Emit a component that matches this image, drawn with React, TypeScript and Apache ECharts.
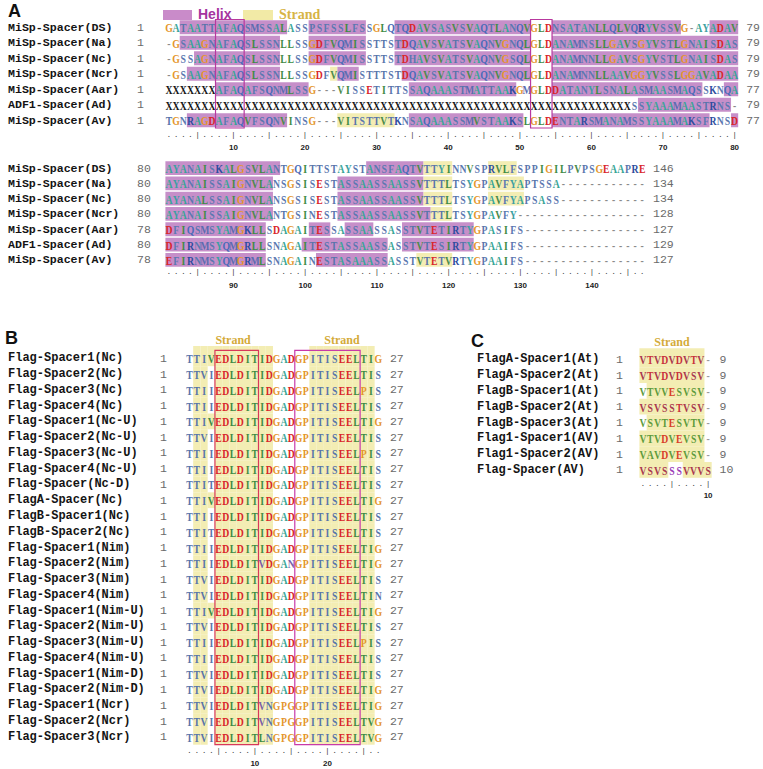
import React, { useEffect, useRef } from "react";
import * as echarts from "echarts";

// ---------------- Panel A data ----------------
const aNames = ["MiSp-Spacer(DS)", "MiSp-Spacer(Na)", "MiSp-Spacer(Nc)", "MiSp-Spacer(Ncr)", "MiSp-Spacer(Aar)", "ADF1-Spacer(Ad)", "MiSp-Spacer(Av)"];
const aStart1 = [1, 1, 1, 1, 1, 1, 1];
const aEnd1 = [79, 79, 79, 79, 77, 79, 77];
const aSeq1 = [
  "GATAATTAFAQSMSSALASSPSFSSLFSSGLQTQDAVSASVSVAQTLANQVGLDNSATANLLQLVQRYVSSVG-AYADAV",
  "-GSAAGNAFAQSLSSNLLSSGDFVQMISSTTSTDQAVSVATSVAQNVGNQLGLDANAMNSLLGAVSGYVSTLGNAISDAS",
  "-GSSAGNAFAQSLSSNLLSSGDFVQMISSTTSTDHAVSVATSVAQNVGSQLGLDANAMNNLLGAVSGYVSTLGNAISDAS",
  "-GSAAGNAFAQSLSSNLLSSGDFVQMISTTTSTDQAVSVATSVAQNVGNQLGLDANAMNNLLAAVGGYVSSLGGAVADAA",
  "XXXXXXXAFAQAFSQNMLSSG---VISSETITTSSAQAAASTMATTAAKGMGLDDATANYLSNALASMAASMAQSSKNQA",
  "XXXXXXXXXX" + "XXXXXXXXXX" + "XXXXXXXXXX" + "XXXXXXXXXX" + "XXXXXXXXXX" + "XXXXXXXXXX" + "XXXXX" + "SSYAAAMAASTRNS-",
  "TGNRAGDAFAQVFSQNVINSG---VITSTTVTKNSAQAAASSMVSTAAKSLGLDENTARSMANAMSSYAAAMAKSFRNSD",
];
const aHelix1 = [
  [[3, 17], [21, 28], [33, 51], [55, 72], [77, 80]],
  [[3, 16], [21, 28], [33, 51], [55, 80]],
  [[5, 16], [21, 28], [33, 51], [55, 80]],
  [[4, 16], [25, 27], [34, 51], [55, 80]],
  [[8, 20], [35, 49], [55, 75], [79, 80]],
  [[67, 79]],
  [[4, 17], [35, 50], [55, 76], [80, 80]],
];
const aStrand1 = [[], [], [], [[24, 24]], [], [], [[25, 32]]];
const aStart2 = [80, 80, 80, 80, 78, 80, 78];
const aEnd2 = [146, 134, 134, 128, 127, 129, 127];
const aSeq2 = [
  "AYANAISKALGSVLANTGQITTSTAYSTANSFAQTVTTYINNVSPRVLFSPPIGILPVPSGEAAPRE",
  "AYANAISSAIGNVLANSGSISESTASSAASSAASSVTTTLTSYGPAVFYAPTSSA------------",
  "AYANALSSAIGNVLANSGSISESTASSAASSAASSVTTTLTSYGPAVFYAPSASS------------",
  "AYANAISSAIGNVLANTGSINESTASSAASSAASSVTTTLTSYGPAVFY------------------",
  "DFIQSMSYAMGKLLSDAGAITESSASSAASSASSTVTETIRTYGPASIFS-----------------",
  "DFIRNMSYQMGRLLSNAGAITESTASSAASSASSTVTESIRTYGPAAIFS-----------------",
  "EFIRNMSYQMGRMLSNAGAINESTASAAASSASSTVTETVRTYGPAAIFS-----------------",
];
const aHelix2 = [
  [[1, 16], [29, 36]],
  [[1, 15], [25, 36]],
  [[1, 15], [25, 36]],
  [[1, 15], [25, 37]],
  [[1, 14], [21, 23], [26, 29], [34, 43]],
  [[1, 14], [20, 31], [34, 43]],
  [[1, 14], [22, 31]],
];
const aStrand2 = [[[37, 40], [46, 49]], [[37, 40], [46, 50]], [[37, 40], [46, 50]], [[38, 40]], [], [], [[36, 40]]];
const aBoxes1 = [[8, 11], [52, 54]];
const aTicks1 = [10, 20, 30, 40, 50, 60, 70, 80];
const aTicks2 = [90, 100, 110, 120, 130, 140];

// ---------------- Panel B data ----------------
const bNames = [
  "Flag-Spacer1(Nc)", "Flag-Spacer2(Nc)", "Flag-Spacer3(Nc)", "Flag-Spacer4(Nc)",
  "Flag-Spacer1(Nc-U)", "Flag-Spacer2(Nc-U)", "Flag-Spacer3(Nc-U)", "Flag-Spacer4(Nc-U)",
  "Flag-Spacer(Nc-D)", "FlagA-Spacer(Nc)", "FlagB-Spacer1(Nc)", "FlagB-Spacer2(Nc)",
  "Flag-Spacer1(Nim)", "Flag-Spacer2(Nim)", "Flag-Spacer3(Nim)", "Flag-Spacer4(Nim)",
  "Flag-Spacer1(Nim-U)", "Flag-Spacer2(Nim-U)", "Flag-Spacer3(Nim-U)", "Flag-Spacer4(Nim-U)",
  "Flag-Spacer1(Nim-D)", "Flag-Spacer2(Nim-D)", "Flag-Spacer1(Ncr)", "Flag-Spacer2(Ncr)", "Flag-Spacer3(Ncr)",
];
const bSeqs = [
  "TTIVEDLDITIDGADGPITISEELTIG", "TTVIEDLDITIDGADGPITISEELTIS", "TTIIEDLDITIDGADGPITISEELPIS", "TTIIEDLDITIDGADGPITISEELTIS",
  "TTIVEDLDITIDGADGPITISEELTIG", "TTVIEDLDITIDGADGPITISEELTIS", "TTIIEDLDITIDGADGPITISEELPIS", "TTIIEDLDITIDGADGPITISEELTIS",
  "TTITEDLDITIDGADGPITISEELTIS", "TTIVEDLDITIDGADGPITISEELTIG", "TTIIEDLDITIDGADGPITISEELTIS", "TTITEDLDITIDGADGPITISEELTIS",
  "TTIIEDLDITIDGADGPITISEELTIG", "TTIIEDLDITVDGANGPITISEELTIG", "TTVIEDLDITIDGADGPITISEELTIS", "TTVIEDLDITIDGADGPITISEELTIN",
  "TTIVEDLDITIDGADGPITISEELTIG", "TTVIEDLDITIDGADGPITISEELTIS", "TTIIEDLDITIDGADGPITISEELPIS", "TTIIEDLDITIDGADGPITISEELTIS",
  "TTVIEDLDITIDGADGPITISEELTIS", "TTVIEDLDITIDGADGPITISEELTIG", "TTVIEDLDITVNGPGGPITISEELTIG", "TTVIEDLDITVNGPGGPITISEELTVG",
  "TTVIEDLDITLNGPGGPITISEELTVG",
];
const bStart = bSeqs.map(() => 1);
const bEnd = bSeqs.map(() => 27);
const bStrandBands = [[2, 12], [18, 26]];
const bBoxes = [[5, 10], [16, 24]];
const bTicks = [10, 20];

// ---------------- Panel C data ----------------
const cNames = ["FlagA-Spacer1(At)", "FlagA-Spacer2(At)", "FlagB-Spacer1(At)", "FlagB-Spacer2(At)", "FlagB-Spacer3(At)", "Flag1-Spacer1(AV)", "Flag1-Spacer2(AV)", "Flag-Spacer(AV)"];
const cSeqs = ["VTVDVDVTV-", "VTVDVDVSV-", "VTVVESVSV-", "VSVSSTVSV-", "VSVTESVTV-", "VTVDVEVSV-", "VAVDVEVSV-", "VSVSSSVVVS"];
const cStart = [1, 1, 1, 1, 1, 1, 1, 1];
const cEnd = [9, 9, 9, 9, 9, 9, 9, 10];
const cStrand = [[[1, 9]], [[1, 9]], [[2, 9]], [[1, 9]], [[2, 9]], [[1, 9]], [[1, 9]], [[1, 4], [7, 10]]];
const cTone = ["r", "r", "g", "r", "g", "g", "g", "r"];
const cStrandBand = [1, 9];
const cTicks = [10];

// ---------------- styles ----------------
const HELIX = "#c68fc9";
const STRAND = "#f3edb3";
const RED = "#d9262b";
const ORANGE = "#e4962c";
const TEAL = "#38a596";
const SLATE = "#5874aa";
const GREEN = "#3f8b45";
const baseColors: Record<string, string> = {
  A: TEAL, G: ORANGE, P: "#5b76ad", D: RED, E: RED, T: SLATE, S: "#5b78b0", N: "#5b78b0",
  Q: "#4a6cb8", I: GREEN, L: GREEN, V: "#4a8a4a", M: "#5b6cb0", F: "#5b78b0", Y: "#3d9fa2",
  K: "#2d4d9e", R: "#2d4d9e", H: "#5b78b0", X: "#141414", "-": "#8a8a8a",
};
const colorA = (ch: string) => baseColors[ch] || SLATE;
const colorB = (ch: string, col: number) => {
  if (ch === "D" || ch === "E") return RED;
  if (ch === "G" || ch === "P") return ORANGE;
  if (ch === "A") return TEAL;
  if (ch === "L") return GREEN;
  if (ch === "N") return col === 15 ? "#7b5ea8" : SLATE;
  if (ch === "S") return SLATE;
  if (ch === "V") return col === 3 ? SLATE : col === 11 ? "#7b5ea8" : GREEN;
  if (ch === "T" || ch === "I") return (col >= 5 && col <= 12) || col >= 24 ? GREEN : SLATE;
  return SLATE;
};
const colorC = (ch: string, row: number, col: number) => {
  if (ch === "-") return "#9a9a9a";
  if (row === 7 && (col === 5 || col === 6)) return "#9a3cb8";
  if (cTone[row] === "r") return ch === "D" || ch === "T" ? "#c8323c" : "#a8384f";
  if (ch === "D" || ch === "E") return "#d8402a";
  return "#5d9a3c";
};

const LETTER_FONT = 'bold 12.5px "Liberation Serif"';

const cats = (from: number, n: number) => Array.from({ length: n }, (_, i) => String(from + i));
const hidden = { axisLine: { show: false }, axisTick: { show: false }, splitLine: { show: false } };

function rulerAxes(grid: number, from: number, n: number, ticks: number[], rMargin: number, lMargin: number) {
  const data = cats(from, n);
  return [
    {
      type: "category", gridIndex: grid, position: "bottom", data, ...hidden,
      axisLabel: {
        interval: 0, margin: rMargin, verticalAlign: "middle", fontFamily: "Liberation Mono", fontSize: 8, color: "#444",
        formatter: (v: string) => (Number(v) % 5 === 0 ? "|" : "."),
      },
    },
    {
      type: "category", gridIndex: grid, position: "bottom", data, ...hidden,
      axisLabel: {
        interval: 0, margin: lMargin, verticalAlign: "middle", fontFamily: "Liberation Sans", fontWeight: "bold", fontSize: 8, color: "#222",
        formatter: (v: string) => (ticks.includes(Number(v)) ? v : ""),
      },
    },
  ];
}

function rowAxes(grid: number, names: string[], starts: number[], ends: number[], nm: number, sm: number, em: number, nameSize: number) {
  const numLabel = { interval: 0, align: "left", fontFamily: "Liberation Mono", fontSize: 11.5, color: "#6a6a6a" };
  return [
    { type: "category", gridIndex: grid, position: "left", inverse: true, data: names, ...hidden,
      axisLabel: { interval: 0, align: "left", margin: nm, fontFamily: "Liberation Mono", fontWeight: "bold", fontSize: nameSize, color: "#141414" } },
    { type: "category", gridIndex: grid, position: "left", offset: 0, inverse: true, data: starts.map(String), ...hidden,
      axisLabel: { ...numLabel, margin: sm } },
    { type: "category", gridIndex: grid, position: "right", inverse: true, data: ends.map(String), ...hidden,
      axisLabel: { ...numLabel, margin: em } },
  ];
}

function headerAxis(grid: number, n: number, bands: number[][], margin: number) {
  const centers = bands.map((b) => (b[0] + b[1]) / 2);
  return {
    type: "category", gridIndex: grid, position: "top", data: cats(1, n), ...hidden,
    axisLabel: {
      interval: 0, margin, verticalAlign: "middle", fontFamily: "Liberation Serif", fontWeight: "bold", fontSize: 12, color: "#d4ab3a",
      formatter: (v: string) => (centers.includes(Number(v)) ? "Strand" : ""),
    },
  };
}

type BgFn = (r: number, seq: string) => [number, number, string][];
type ColFn = (ch: string, r: number, col: number) => string;

function rowSeries(xi: number, yi: number, seqs: string[], bgFn: BgFn, colFn: ColFn, gap: number, headerExt: number) {
  return {
    type: "custom", xAxisIndex: xi, yAxisIndex: yi, z: 2, silent: true,
    data: seqs.map((_, r) => [0, r]),
    renderItem: (params: any, api: any) => {
      const r = params.dataIndex;
      const seq = seqs[r];
      const size = api.size([1, 1]);
      const cw = size[0];
      const rh = size[1];
      const children: any[] = [];
      bgFn(r, seq).forEach(([s, e, fill]) => {
        const p = api.coord([s - 1, r]);
        const ext = r === 0 ? headerExt * rh : 0;
        children.push({
          type: "rect",
          shape: { x: p[0] - cw / 2, y: p[1] - rh / 2 + gap / 2 - ext, width: cw * (e - s + 1), height: rh - gap + ext },
          style: { fill },
        });
      });
      for (let c = 0; c < seq.length; c++) {
        const ch = seq[c];
        const p = api.coord([c, r]);
        children.push({
          type: "text", x: p[0], y: p[1] + 0.5, scaleX: 0.78,
          style: { text: ch, fill: colFn(ch, r, c + 1), font: LETTER_FONT, align: "center", textAlign: "center", verticalAlign: "middle", textVerticalAlign: "middle" },
        });
      }
      return { type: "group", children };
    },
  };
}

function boxSeries(xi: number, yi: number, nRows: number, boxes: number[][], colors: string[]) {
  return {
    type: "custom", xAxisIndex: xi, yAxisIndex: yi, z: 3, silent: true,
    data: [[0, 0]],
    renderItem: (_params: any, api: any) => {
      const size = api.size([1, 1]);
      const cw = size[0];
      const rh = size[1];
      const children = boxes.map(([s, e], i) => {
        const p1 = api.coord([s - 1, 0]);
        const p2 = api.coord([e - 1, nRows - 1]);
        return {
          type: "rect",
          shape: { x: p1[0] - cw / 2, y: p1[1] - rh / 2, width: p2[0] - p1[0] + cw, height: p2[1] - p1[1] + rh },
          style: { fill: "none", stroke: colors[i], lineWidth: 1.2 },
        };
      });
      return { type: "group", children };
    },
  };
}

function buildOption() {
  const rangesBg = (helix: number[][][], strand: number[][][]): BgFn => (r) => [
    ...helix[r].map(([s, e]) => [s, e, HELIX] as [number, number, string]),
    ...strand[r].map(([s, e]) => [s, e, STRAND] as [number, number, string]),
  ];
  const bBg: BgFn = (_r, seq) => {
    const out: [number, number, string][] = [];
    bStrandBands.forEach(([s, e]) => {
      for (let c = s; c <= e; c++) {
        if (c === 4 && seq[3] !== "V") continue;
        out.push([c, c, STRAND]);
      }
    });
    return out;
  };
  const cBg: BgFn = (r) => cStrand[r].map(([s, e]) => [s, e, STRAND] as [number, number, string]);

  const xAxis = [
    ...rulerAxes(0, 1, 80, aTicks1, 6.5, 19), // 0,1
    ...rulerAxes(1, 81, 67, aTicks2, 4, 18), // 2,3
    ...rulerAxes(2, 1, 27, bTicks, 5.3, 18.6), // 4,5
    headerAxis(2, 27, bStrandBands, 10.7), // 6
    ...rulerAxes(3, 1, 10, cTicks, 5.5, 17.2), // 7,8
    headerAxis(3, 10, [cStrandBand], 9.7), // 9
  ];
  const yAxis = [
    ...rowAxes(0, aNames, aStart1, aEnd1, 157.4, 28.4, 8, 11.6), // 0,1,2
    ...rowAxes(1, aNames, aStart2, aEnd2, 157.4, 28.4, 7.2, 11.6), // 3,4,5
    ...rowAxes(2, bNames, bStart, bEnd, 177.9, 25.9, 8, 12), // 6,7,8
    ...rowAxes(3, cNames, cStart, cEnd, 162.4, 23.4, 7.8, 12), // 9,10,11
  ];

  return {
    animation: false,
    backgroundColor: "#ffffff",
    grid: [
      { left: 165.4, top: 19.5, width: 573.6, height: 108.5 },
      { left: 165.4, top: 160.4, width: 480.4, height: 107.1 },
      { left: 185.9, top: 350.4, width: 196.0, height: 394.3 },
      { left: 639.4, top: 351.4, width: 72.3, height: 126.4 },
    ],
    xAxis,
    yAxis,
    graphic: [
      { type: "text", left: 8, top: 2, style: { text: "A", font: 'bold 18px "Liberation Sans"', fill: "#111" } },
      { type: "text", left: 5, top: 329, style: { text: "B", font: 'bold 18px "Liberation Sans"', fill: "#111" } },
      { type: "text", left: 471, top: 332, style: { text: "C", font: 'bold 18px "Liberation Sans"', fill: "#111" } },
      { type: "rect", left: 163, top: 10, shape: { width: 29, height: 10 }, style: { fill: "#c98bc9" } },
      { type: "text", left: 198, top: 7, style: { text: "Helix", font: 'bold 14px "Liberation Sans"', fill: "#a5349f" } },
      { type: "rect", left: 243, top: 10, shape: { width: 30, height: 10 }, style: { fill: "#f2eaa6" } },
      { type: "text", left: 279, top: 7, style: { text: "Strand", font: 'bold 14px "Liberation Serif"', fill: "#d7b445" } },
    ],
    series: [
      rowSeries(0, 0, aSeq1, rangesBg(aHelix1, aStrand1), (ch) => colorA(ch), 1.5, 0),
      boxSeries(0, 0, aSeq1.length, aBoxes1, ["#b8389e", "#b8389e"]),
      rowSeries(2, 3, aSeq2, rangesBg(aHelix2, aStrand2), (ch) => colorA(ch), 1.5, 0),
      rowSeries(4, 6, bSeqs, bBg, (ch, _r, col) => colorB(ch, col), 0, 0.28),
      boxSeries(4, 6, bSeqs.length, bBoxes, ["#d8385a", "#c83aa8"]),
      rowSeries(7, 9, cSeqs, cBg, (ch, r, col) => colorC(ch, r, col), 0, 0.2),
    ],
  };
}

export default function App() {
  const ref = useRef<HTMLDivElement>(null);
  useEffect(() => {
    const chart = echarts.init(ref.current!, null, { renderer: "svg" });
    chart.setOption(buildOption() as any);
    return () => chart.dispose();
  }, []);
  return <div ref={ref} style={{ position: "fixed", left: 0, top: 0, width: 763, height: 769, background: "#fff" }} />;
}
